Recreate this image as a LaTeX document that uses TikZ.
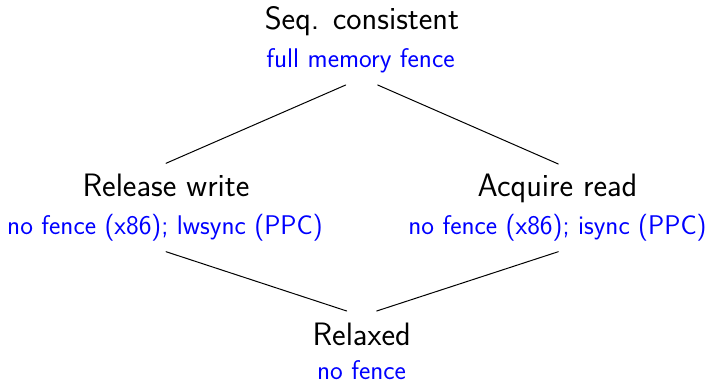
\documentclass[tikz,border=0pt]{standalone}
\usetikzlibrary{calc}
\begin{document}
\begin{tikzpicture}[x=1pt,y=-1pt,
  main/.style={font=\sffamily\fontsize{32.4}{38}\selectfont, inner sep=0pt, anchor=base},
  note/.style={font=\sffamily\fontsize{27}{32}\selectfont, text=blue, inner sep=0pt, anchor=base},
  link/.style={line width=1pt, line cap=round}]
\useasboundingbox (0,0) rectangle (708,382);
\node[main] (seq) at (362,30) {Seq. consistent};
\node[note] (seqn) at (360.5,68) {full memory fence};
\node[main] (rel) at (166,196.7) {Release write};
\node[note] (reln) at (165,234) {no fence (x86); lwsync (PPC)};
\node[main] (acq) at (557.5,196.7) {Acquire read};
\node[note] (acqn) at (557.5,234) {no fence (x86); isync (PPC)};
\node[main] (rlx) at (361.7,345) {Relaxed};
\node[note] (rlxn) at (361.5,379.5) {no fence};
\draw[link] ($(seqn.base)+(-14.8,17)$) -- ($(rel.base)+(0,-33.4)$);
\draw[link] ($(seqn.base)+(17.2,17)$) -- ($(acq.base)+(0.8,-32.7)$);
\draw[link] ($(reln.base)+(1,17.7)$) -- ($(rlx.base)+(-15,-34)$);
\draw[link] ($(acqn.base)+(0.8,17.7)$) -- ($(rlx.base)+(15,-34)$);
\end{tikzpicture}
\end{document}
